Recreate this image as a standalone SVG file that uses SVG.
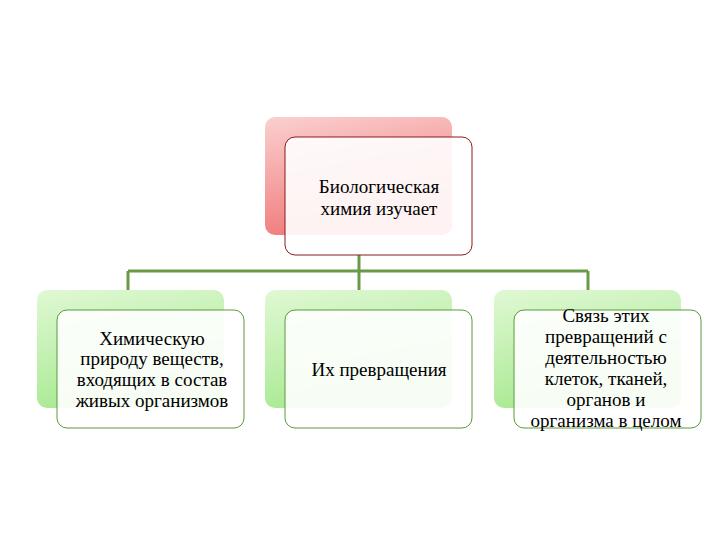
<svg xmlns="http://www.w3.org/2000/svg" width="720" height="540" viewBox="0 0 720 540">
<defs>
<linearGradient id="gr" x1="0" y1="0" x2="0.3" y2="1"><stop offset="0" stop-color="#fbd0d0"/><stop offset="1" stop-color="#f07a7a"/></linearGradient>
<linearGradient id="gg" x1="0" y1="0" x2="0.3" y2="1"><stop offset="0" stop-color="#e0f8d4"/><stop offset="1" stop-color="#a8ea92"/></linearGradient>
<style>
.t{font-family:"Liberation Serif",serif;font-size:19px;fill:#000;text-anchor:middle}
.fr{fill:#fff;fill-opacity:0.9;stroke:#8b1a1a;stroke-width:1}
.fg{fill:#fff;fill-opacity:0.9;stroke:#5a9a3a;stroke-width:1}
.c{stroke:#6a9a48;stroke-width:3;fill:none}
</style>
</defs>
<rect width="720" height="540" fill="#fff"/>
<g id="connectors">
<path class="c" d="M359 255V290M128 271H588M128 271V290M588 271V290"/>
</g>
<g id="top">
<rect x="265" y="117" width="187" height="118" rx="10" fill="url(#gr)"/>
<rect class="fr" x="285" y="137" width="187" height="118" rx="10"/>
<text class="t" x="379" y="193">Биологическая</text>
<text class="t" x="379" y="215">химия изучает</text>
</g>
<g id="left">
<rect x="37" y="290" width="187" height="118" rx="10" fill="url(#gg)"/>
<rect class="fg" x="57" y="310" width="187" height="118" rx="10"/>
<text class="t" x="152" y="345">Химическую</text>
<text class="t" x="152" y="365">природу веществ,</text>
<text class="t" x="152" y="386">входящих в состав</text>
<text class="t" x="152" y="407">живых организмов</text>
</g>
<g id="middle">
<rect x="265" y="290" width="187" height="118" rx="10" fill="url(#gg)"/>
<rect class="fg" x="285" y="310" width="187" height="118" rx="10"/>
<text class="t" x="379" y="376">Их превращения</text>
</g>
<g id="right">
<rect x="494" y="290" width="187" height="118" rx="10" fill="url(#gg)"/>
<rect class="fg" x="514" y="310" width="187" height="118" rx="10"/>
<text class="t" x="606" y="322">Связь этих</text>
<text class="t" x="606" y="343">превращений с</text>
<text class="t" x="606" y="364">деятельностью</text>
<text class="t" x="606" y="385">клеток, тканей,</text>
<text class="t" x="606" y="406">органов и</text>
<text class="t" x="606" y="427">организма в целом</text>
</g>
</svg>
